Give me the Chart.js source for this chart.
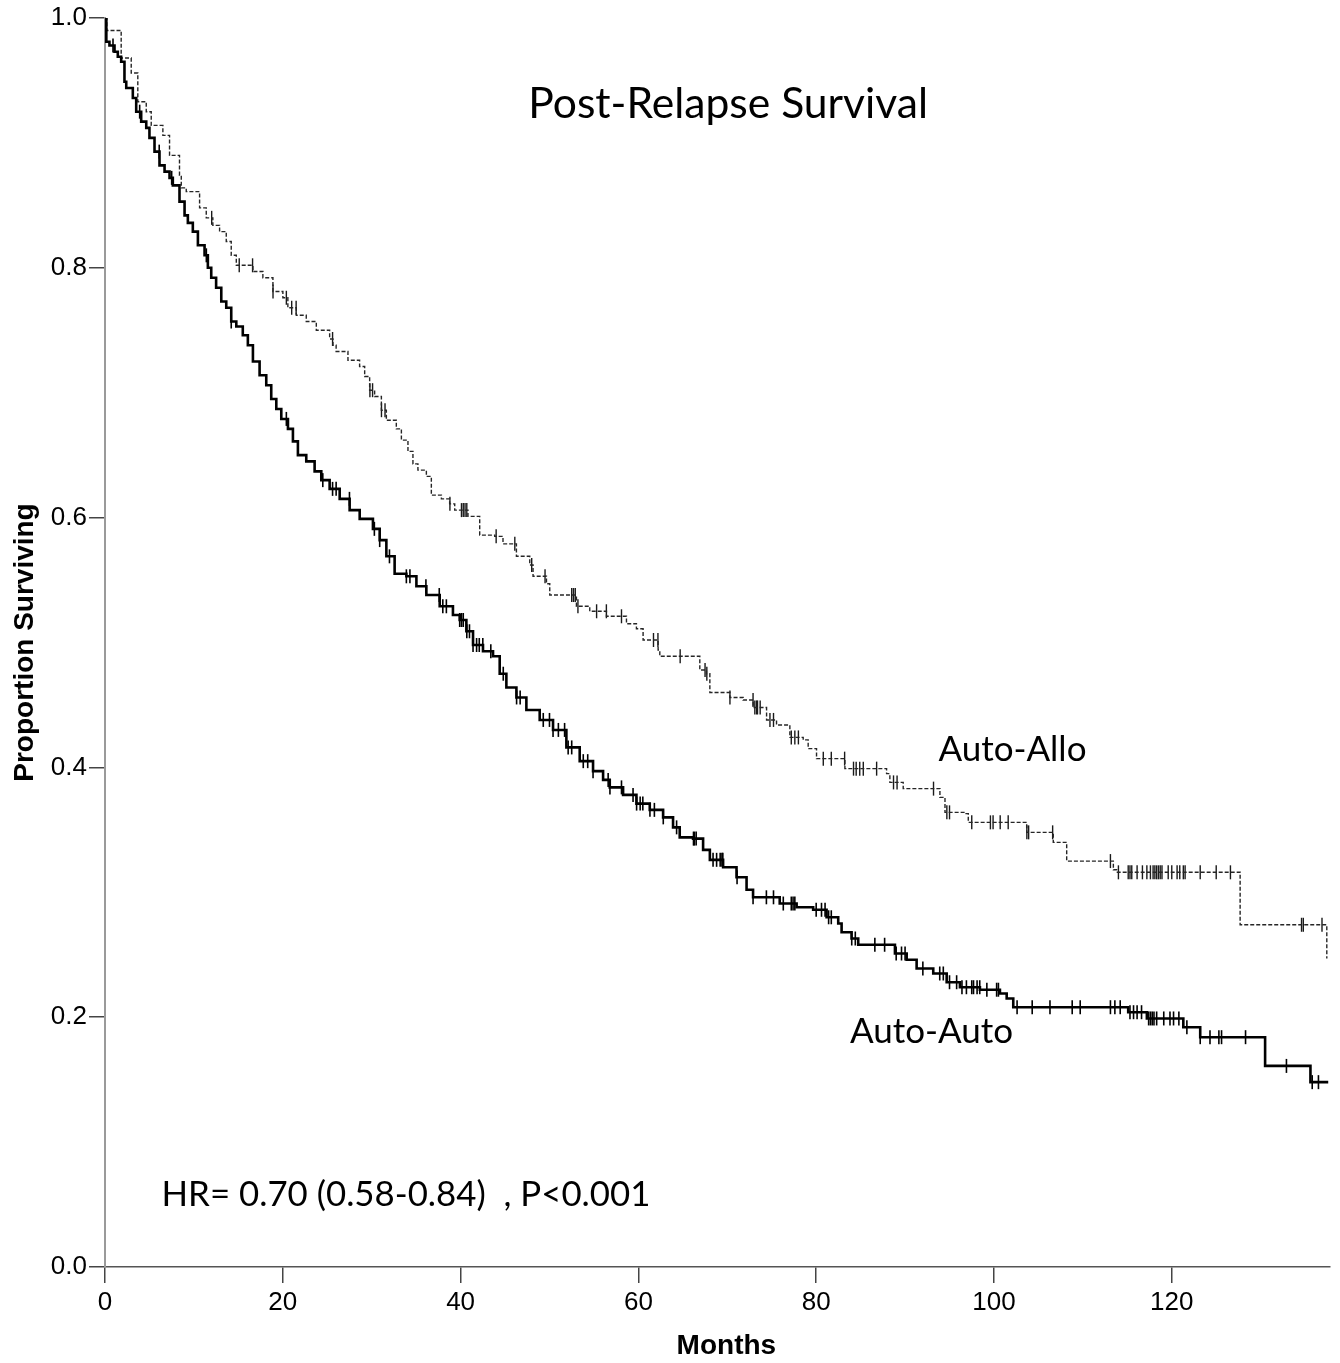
<!DOCTYPE html>
<html lang="en">
<head>
<meta charset="UTF-8">
<title>Post-Relapse Survival</title>
<script src="https://cdn.jsdelivr.net/npm/chart.js@4.4.1/dist/chart.umd.min.js"></script>
<style>
  *{margin:0;padding:0;box-sizing:border-box}
  body{background:#fff;width:1340px;height:1363px;overflow:hidden}
  #km{display:block}
</style>
</head>
<body>
<canvas id="km" width="1340" height="1363"></canvas>
<script>
// Kaplan-Meier steps: month at which the curve drops, and the new survival value
const autoAutoMonths = [0,0.15,0.5,1.07,1.44,1.82,2.19,2.39,3.13,3.51,4.07,4.64,5.0,5.57,6.13,6.7,7.26,7.63,8.38,8.95,9.32,9.88,10.45,11.2,11.57,11.95,12.5,13.08,13.64,14.2,14.77,15.5,16.07,16.64,17.39,18.14,18.7,19.27,19.83,20.58,21.14,21.7,22.64,23.58,24.33,25.27,26.4,27.52,28.65,30.14,30.9,31.65,32.58,33.9,35.03,36.15,37.65,39.14,39.9,40.65,41.4,42.52,43.65,44.4,45.15,46.28,47.4,48.9,50.4,51.9,53.4,54.9,56.03,56.78,58.28,59.78,61.28,62.78,63.9,64.65,66.15,67.28,68.04,69.53,71.04,72.17,72.9,75.9,77.8,79.66,81.17,82.48,82.86,83.98,84.73,88.86,90.18,91.3,93.17,94.68,96.17,98.42,100.67,101.43,102.17,115.1,117.2,121.3,123.2,130.5,135.6,137.6];
const autoAutoSurv = [1.0,0.981,0.978,0.973,0.969,0.965,0.949,0.944,0.936,0.925,0.917,0.912,0.904,0.893,0.882,0.877,0.872,0.866,0.853,0.842,0.836,0.829,0.818,0.810,0.800,0.792,0.784,0.773,0.768,0.757,0.753,0.746,0.738,0.725,0.714,0.706,0.695,0.687,0.679,0.671,0.661,0.650,0.645,0.637,0.630,0.623,0.615,0.606,0.599,0.591,0.582,0.569,0.555,0.553,0.545,0.538,0.529,0.522,0.518,0.509,0.498,0.493,0.489,0.475,0.464,0.456,0.446,0.438,0.430,0.416,0.405,0.397,0.390,0.384,0.378,0.371,0.366,0.360,0.352,0.344,0.343,0.334,0.326,0.320,0.312,0.302,0.296,0.291,0.288,0.286,0.280,0.275,0.268,0.263,0.258,0.251,0.246,0.239,0.235,0.228,0.224,0.222,0.219,0.215,0.208,0.204,0.199,0.192,0.184,0.161,0.148,0.148];

const autoAlloMonths = [0,0.2,1.82,2.95,3.69,4.64,5.2,6.51,7.26,8.38,8.58,9.14,10.64,11.39,12.13,12.89,13.64,14.2,14.77,16.64,17.76,18.89,20.01,20.57,21.52,22.64,23.77,25.27,25.64,26.0,27.33,28.64,29.21,29.77,30.33,31.09,31.65,32.77,33.34,34.08,34.64,35.2,36.15,36.71,37.84,38.77,39.34,40.83,42.15,43.84,44.77,46.28,47.78,48.15,49.66,50.03,53.03,54.53,56.41,58.66,59.78,60.53,62.22,62.41,66.91,67.66,68.04,70.29,71.78,72.91,74.42,75.54,77.04,78.54,79.1,80.04,83.23,87.92,88.29,89.79,93.92,94.49,96.74,97.11,103.68,106.67,108.18,113.43,113.8,127.69,137.44];
const autoAlloSurv = [1.0,0.990,0.968,0.956,0.933,0.925,0.914,0.906,0.890,0.874,0.864,0.861,0.848,0.840,0.834,0.829,0.821,0.810,0.802,0.797,0.792,0.781,0.776,0.768,0.762,0.757,0.750,0.743,0.738,0.733,0.726,0.721,0.713,0.702,0.697,0.686,0.678,0.671,0.662,0.653,0.643,0.638,0.633,0.618,0.615,0.611,0.606,0.601,0.586,0.585,0.579,0.569,0.562,0.553,0.547,0.538,0.529,0.525,0.521,0.515,0.511,0.502,0.494,0.489,0.478,0.475,0.460,0.456,0.454,0.448,0.438,0.434,0.424,0.422,0.415,0.407,0.399,0.395,0.388,0.383,0.376,0.364,0.363,0.356,0.348,0.340,0.325,0.318,0.316,0.274,0.247];

// censored observations (months)
const autoAutoCensored = [0.9,3.9,6.1,7.5,11.4,14.2,20.4,24.5,25.6,26.0,27.5,30.3,30.9,32.0,33.9,34.3,36.1,37.6,38.0,38.4,39.9,40.1,40.3,40.7,41.0,41.4,41.8,42.1,42.5,43.4,44.8,46.3,46.7,49.3,50.0,50.4,51.0,51.7,52.1,52.5,53.8,54.3,54.9,56.6,56.8,58.1,59.4,59.8,60.2,60.5,61.3,61.8,62.8,64.3,66.2,66.3,66.5,68.4,68.8,69.2,69.4,69.5,71.1,72.9,74.4,75.2,76.3,77.2,77.4,77.6,80.0,80.6,81.0,81.4,81.7,84.0,84.4,86.6,87.7,89.0,89.6,90.0,92.0,93.9,94.3,95.0,95.8,96.4,96.9,97.5,97.7,98.1,98.4,99.2,100.3,100.5,102.6,104.3,106.3,108.8,109.7,113.1,113.6,114.2,115.3,115.7,116.1,116.6,117.4,117.6,117.8,118.0,118.3,119.1,119.8,120.2,120.8,121.7,123.2,124.3,125.3,125.6,128.3,132.9,135.8,136.5];
const autoAlloCensored = [12.0,15.1,16.6,18.9,20.4,21.0,21.5,25.6,29.8,30.1,31.1,31.5,38.8,40.1,40.3,40.5,40.7,44.0,46.1,48.0,49.5,52.5,52.7,52.9,53.2,55.3,56.4,58.1,61.7,62.2,64.7,67.5,67.7,70.3,72.9,73.1,73.3,73.4,73.7,74.8,75.2,77.2,77.6,78.0,80.8,81.7,83.2,84.2,84.5,84.9,85.3,86.8,88.7,89.1,93.2,94.7,95.0,97.5,99.6,99.9,100.7,101.6,103.7,103.9,106.6,113.1,114.0,115.1,115.3,115.5,116.1,116.7,117.2,117.6,117.9,118.1,118.3,118.5,118.7,118.9,119.6,120.0,120.6,120.9,121.3,121.5,123.2,125.0,126.6,134.6,134.8,136.9];

const xTicks = [0,20,40,60,80,100,120];
const yTicks = [0,0.2,0.4,0.6,0.8,1.0];

// survival value of a step curve at time t
function survAt(months, surv, t){
  let s = surv[0];
  for(let i=0;i<months.length;i++){ if(months[i] <= t) s = surv[i]; else break; }
  return s;
}
const pts = (m, s) => m.map((v,i)=>({x:v, y:s[i]}));
const marks = (c, m, s) => c.map(t=>({x:t, y:survAt(m, s, t)}));

// text drawn inside the plot, placed in data units; w = target text width in px
const notes = [
  {text:'Post-Relapse Survival', x:70.1, y:0.920, w:400, align:'center'},
  {text:'Auto-Allo', x:93.75, y:0.405, w:148, align:'left'},
  {text:'Auto-Auto', x:83.8, y:0.179, w:163, align:'left'},
  {text:'HR= 0.70 (0.58-0.84)  , P<0.001', x:6.36, y:0.049, w:489, align:'left'}
];

const notesPlugin = {
  id:'notes',
  afterDatasetsDraw(chart){
    const {ctx, scales:{x, y}} = chart;
    ctx.save();
    ctx.fillStyle = '#000';
    ctx.textBaseline = 'alphabetic';
    notes.forEach(n=>{
      ctx.font = '40px Lato';
      const size = 40 * n.w / ctx.measureText(n.text).width;
      ctx.font = size.toFixed(1) + 'px Lato';
      ctx.textAlign = n.align;
      ctx.fillText(n.text, x.getPixelForValue(n.x), y.getPixelForValue(n.y));
    });
    // x axis title, centred a little right of the axis middle as in the original
    ctx.font = 'bold 28px "Liberation Sans", Arial, sans-serif';
    ctx.textAlign = 'center';
    ctx.textBaseline = 'middle';
    ctx.fillText('Months', x.getPixelForValue(69.9), 1346);
    ctx.restore();
  }
};

const tickFont = {family:'"Liberation Sans", Arial, sans-serif', size:26};
const titleFont = {family:'"Liberation Sans", Arial, sans-serif', size:28, weight:'bold'};

new Chart(document.getElementById('km'), {
  type:'line',
  data:{
    datasets:[
      {label:'Auto-Auto', data:pts(autoAutoMonths, autoAutoSurv), stepped:true,
       borderColor:'#000', borderWidth:2.6, pointRadius:0, fill:false},
      {label:'Auto-Allo', data:pts(autoAlloMonths, autoAlloSurv), stepped:true,
       borderColor:'#262626', borderWidth:1.4, borderDash:[4,2], pointRadius:0, fill:false},
      {label:'Auto-Auto censored', data:marks(autoAutoCensored, autoAutoMonths, autoAutoSurv), showLine:false,
       pointStyle:'line', rotation:90, pointRadius:7, pointBorderWidth:1.6, pointBorderColor:'#000'},
      {label:'Auto-Allo censored', data:marks(autoAlloCensored, autoAlloMonths, autoAlloSurv), showLine:false,
       pointStyle:'line', rotation:90, pointRadius:7, pointBorderWidth:1.4, pointBorderColor:'#1a1a1a'}
    ]
  },
  options:{
    responsive:false,
    devicePixelRatio:1,
    animation:false,
    layout:{padding:{top:18, right:10, left:0, bottom:0}},
    plugins:{legend:{display:false}, tooltip:{enabled:false}, title:{display:false}},
    elements:{line:{tension:0}},
    scales:{
      x:{
        type:'linear', min:0, max:137.8,
        afterBuildTicks:s=>{ s.ticks = xTicks.map(v=>({value:v})); },
        afterFit:s=>{ s.height = 96; },
        ticks:{font:tickFont, color:'#000', padding:4, maxRotation:0, includeBounds:false},
        grid:{drawOnChartArea:false, drawTicks:true, tickLength:16, color:'#444', lineWidth:1.5},
        border:{display:true, color:'#555', width:1.5},
        title:{display:false}
      },
      y:{
        type:'linear', min:0, max:1,
        afterBuildTicks:s=>{ s.ticks = yTicks.map(v=>({value:v})); },
        afterFit:s=>{ s.width = 105; },
        ticks:{font:tickFont, color:'#000', padding:2, callback:v=>v.toFixed(1)},
        grid:{drawOnChartArea:false, drawTicks:true, tickLength:16, color:'#444', lineWidth:1.5},
        border:{display:true, color:'#9a9a9a', width:2},
        title:{display:true, text:'Proportion Surviving', font:titleFont, color:'#000', padding:{top:8, bottom:0}}
      }
    }
  },
  plugins:[notesPlugin]
});
</script>
</body>
</html>
